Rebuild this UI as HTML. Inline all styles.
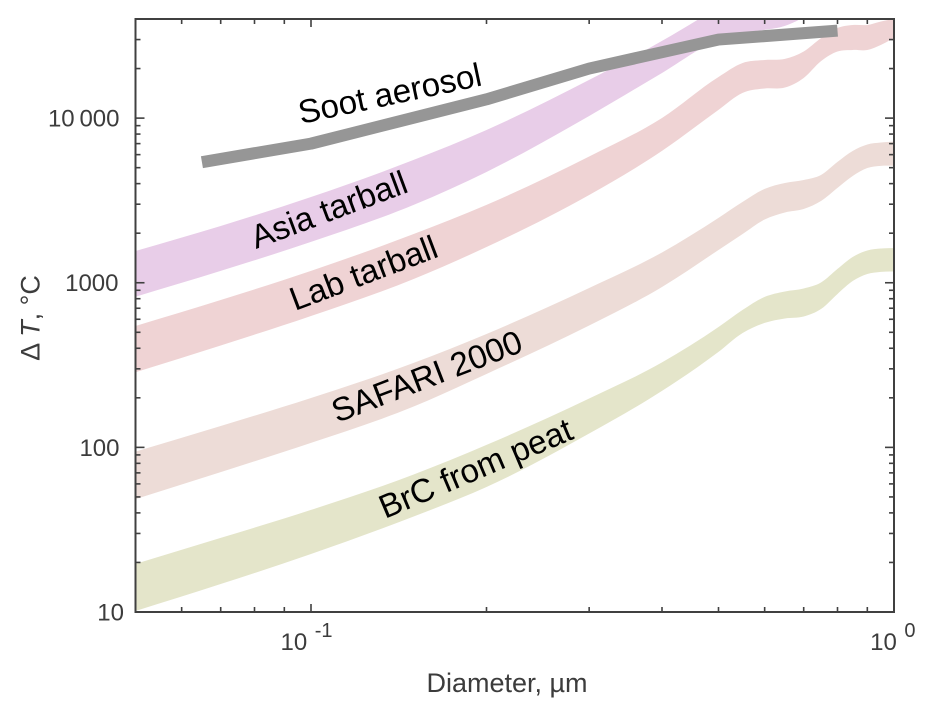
<!DOCTYPE html>
<html>
<head>
<meta charset="utf-8">
<title>Delta T versus diameter</title>
<style>
html,body{margin:0;padding:0;background:#fff;}
svg{display:block;}
text{font-family:"Liberation Sans",Arial,sans-serif;}
.tick{font-size:24px;fill:#3c3c3c;}
.sup{font-size:20px;fill:#3c3c3c;}
.axt{font-size:27px;fill:#3c3c3c;}
.lab{font-size:33.2px;fill:#000;}
</style>
</head>
<body>
<svg id="chart" xmlns="http://www.w3.org/2000/svg" width="931" height="715" viewBox="0 0 931 715">
  <defs><clipPath id="plot-clip"><rect x="135.5" y="19" width="758.5" height="593"></rect></clipPath></defs>
  <rect x="0" y="0" width="931" height="715" fill="#fff"></rect>
  <g id="bands" clip-path="url(#plot-clip)"></g>
  <g id="soot" clip-path="url(#plot-clip)"></g>
  <g id="axes"></g>
  <text class="lab" transform="translate(301,124) rotate(-12)">Soot aerosol</text>
  <text class="lab" transform="translate(256,249) rotate(-20.5)">Asia tarball</text>
  <text class="lab" transform="translate(295,311) rotate(-20.7)">Lab tarball</text>
  <text class="lab" transform="translate(337,423) rotate(-21)">SAFARI 2000</text>
  <text class="lab" transform="translate(385,519) rotate(-23)">BrC from peat</text>
  <text class="axt" x="507" y="692" text-anchor="middle">Diameter, µm</text>
  <text class="axt" transform="translate(39.5,318) rotate(-90)" text-anchor="middle">Δ <tspan font-style="italic">T</tspan>, °C</text>
</svg>
<script>
// Diameter grid in micrometres
const diameters = [0.05,0.07,0.1,0.15,0.2,0.3,0.4,0.5,0.55,0.6,0.65,0.7,0.75,0.8,0.85,0.9,0.95,1];
// Band edges as log10(delta T, deg C)
const brcUpper = [1.292,1.450,1.620,1.835,2.015,2.297,2.516,2.731,2.835,2.914,2.947,2.965,3.002,3.084,3.157,3.196,3.208,3.211];
const brcLower = [1.006,1.170,1.352,1.580,1.759,2.084,2.343,2.580,2.695,2.756,2.783,2.795,2.841,2.932,3.011,3.053,3.066,3.069];
const safariUpper = [1.974,2.130,2.300,2.513,2.689,2.968,3.184,3.394,3.491,3.570,3.606,3.624,3.655,3.734,3.801,3.840,3.852,3.857];
const safariLower = [1.686,1.850,2.027,2.248,2.446,2.740,2.974,3.199,3.296,3.384,3.427,3.448,3.497,3.576,3.649,3.697,3.710,3.711];
const labUpper = [2.737,2.895,3.072,3.296,3.473,3.767,4.001,4.250,4.335,4.353,4.360,4.405,4.487,4.548,4.566,4.566,4.587,4.603];
const labLower = [2.456,2.619,2.798,3.023,3.217,3.533,3.801,4.050,4.153,4.180,4.186,4.244,4.347,4.405,4.414,4.414,4.445,4.487];
const asiaUpper = [3.193,3.345,3.521,3.746,3.928,4.232,4.469,4.675,4.767,4.809,4.827,4.870,4.900,4.925,4.937,4.937,4.949,4.961];
const asiaLower = [2.915,3.072,3.248,3.473,3.673,4.013,4.274,4.475,4.517,4.536,4.560,4.615,4.700,4.754,4.767,4.767,4.779,4.791];
// Soot aerosol line
const sootDiameters = [0.065,0.1,0.2,0.3,0.5,0.8];
const sootValues = [5400,7000,13000,20000,30000,34000];
// Axis ticks
const xMajorTicks = [0.1,1];
const xMinorTicks = [0.06,0.07,0.08,0.09,0.2,0.3,0.4,0.5,0.6,0.7,0.8,0.9];
const yMajorTicks = [10,100,1000,10000];
const yMinorTicks = [20,30,40,50,60,70,80,90,200,300,400,500,600,700,800,900,2000,3000,4000,5000,6000,7000,8000,9000,20000,30000];
const yTickLabels = ["10","100","1000","10\u2009000"];
const xTickExponents = ["-1","0"];

const NS = 'http://www.w3.org/2000/svg';
const plot = {left:135.5,right:894,top:19,bottom:612};
const xDomain = [0.05,1];
const yDomain = [10,40000];
function xScale(d){
  const a = Math.log10(xDomain[0]), b = Math.log10(xDomain[1]);
  return plot.left + (Math.log10(d)-a)/(b-a)*(plot.right-plot.left);
}
function yScaleLog(logV){
  const a = Math.log10(yDomain[0]), b = Math.log10(yDomain[1]);
  return plot.bottom - (logV-a)/(b-a)*(plot.bottom-plot.top);
}
function yScale(v){ return yScaleLog(Math.log10(v)); }
// Cubic Hermite through points with spacing-weighted tangents
function curveThrough(pts){
  const n = pts.length;
  const slope = [];
  for(let i=0;i<n-1;i++){ slope.push((pts[i+1][1]-pts[i][1])/(pts[i+1][0]-pts[i][0])); }
  const tan = [];
  for(let i=0;i<n;i++){
    if(i===0){ tan.push(slope[0]); }
    else if(i===n-1){ tan.push(slope[n-2]); }
    else {
      const hPrev = Math.abs(pts[i][0]-pts[i-1][0]), hNext = Math.abs(pts[i+1][0]-pts[i][0]);
      tan.push((slope[i-1]*hNext+slope[i]*hPrev)/(hPrev+hNext));
    }
  }
  let s = '';
  for(let i=0;i<n-1;i++){
    const h = pts[i+1][0]-pts[i][0];
    const c1x = pts[i][0]+h/3, c1y = pts[i][1]+tan[i]*h/3;
    const c2x = pts[i+1][0]-h/3, c2y = pts[i+1][1]-tan[i+1]*h/3;
    s += ' C'+c1x.toFixed(2)+' '+c1y.toFixed(2)+' '+c2x.toFixed(2)+' '+c2y.toFixed(2)+' '+pts[i+1][0].toFixed(2)+' '+pts[i+1][1].toFixed(2);
  }
  return s;
}
function bandPath(upper,lower){
  const up = diameters.map((d,i)=>[xScale(d),yScaleLog(upper[i])]);
  const lo = diameters.map((d,i)=>[xScale(d),yScaleLog(lower[i])]).reverse();
  return 'M'+up[0][0].toFixed(2)+' '+up[0][1].toFixed(2)+curveThrough(up)+' L'+lo[0][0].toFixed(2)+' '+lo[0][1].toFixed(2)+curveThrough(lo)+' Z';
}
const bandsG = document.getElementById('bands');
const asiaBand = document.createElementNS(NS,'path');


asiaBand.setAttribute('d', bandPath(asiaUpper,asiaLower));
asiaBand.setAttribute('fill', '#e8cde8');
bandsG.appendChild(asiaBand);
const labBand = document.createElementNS(NS,'path');


labBand.setAttribute('d', bandPath(labUpper,labLower));
labBand.setAttribute('fill', '#efd3d4');
bandsG.appendChild(labBand);
const safariBand = document.createElementNS(NS,'path');


safariBand.setAttribute('d', bandPath(safariUpper,safariLower));
safariBand.setAttribute('fill', '#eddcd7');
bandsG.appendChild(safariBand);
const brcBand = document.createElementNS(NS,'path');


brcBand.setAttribute('d', bandPath(brcUpper,brcLower));
brcBand.setAttribute('fill', '#e4e5ca');
bandsG.appendChild(brcBand);

const sootLine = document.createElementNS(NS,'polyline');


sootLine.setAttribute('points', sootDiameters.map((d,i)=>xScale(d).toFixed(2)+','+yScale(sootValues[i]).toFixed(2)).join(' '));
sootLine.setAttribute('fill', 'none');
sootLine.setAttribute('stroke', '#969696');
sootLine.setAttribute('stroke-width', '12');
sootLine.setAttribute('stroke-linejoin', 'round');
document.getElementById('soot').appendChild(sootLine);

const axesG = document.getElementById('axes');
const axisColor = '#404040';
function tickLine(x1,y1,x2,y2,w,name){
  const l = document.createElementNS(NS,'line');
  
  
  l.setAttribute('x1', x1); l.setAttribute('y1', y1);
  l.setAttribute('x2', x2); l.setAttribute('y2', y2);
  l.setAttribute('stroke', axisColor);
  l.setAttribute('stroke-width', w);
  axesG.appendChild(l);
}
xMinorTicks.forEach(d=>{
  const x = xScale(d);
  tickLine(x,plot.bottom,x,plot.bottom-5,1.6,'x-minor-tick-bottom');
  tickLine(x,plot.top,x,plot.top+5,1.6,'x-minor-tick-top');
});
xMajorTicks.forEach(d=>{
  const x = xScale(d);
  tickLine(x,plot.bottom,x,plot.bottom-8,1.6,'x-major-tick-bottom');
  tickLine(x,plot.top,x,plot.top+8,1.6,'x-major-tick-top');
});
yMinorTicks.forEach(v=>{
  const y = yScale(v);
  tickLine(plot.left,y,plot.left+5,y,1.6,'y-minor-tick-left');
  tickLine(plot.right,y,plot.right-5,y,1.6,'y-minor-tick-right');
});
yMajorTicks.forEach(v=>{
  const y = yScale(v);
  tickLine(plot.left,y,plot.left+9,y,1.6,'y-major-tick-left');
  tickLine(plot.right,y,plot.right-9,y,1.6,'y-major-tick-right');
});
const frame = document.createElementNS(NS,'rect');


frame.setAttribute('x', plot.left);
frame.setAttribute('y', plot.top);
frame.setAttribute('width', plot.right-plot.left);
frame.setAttribute('height', plot.bottom-plot.top);
frame.setAttribute('fill', 'none');
frame.setAttribute('stroke', axisColor);
frame.setAttribute('stroke-width', '2');
axesG.appendChild(frame);

yMajorTicks.forEach((v,i)=>{
  const t = document.createElementNS(NS,'text');
  
  
  t.setAttribute('class', 'tick');
  t.setAttribute('x', v===10 ? 124 : (v===1000 ? 118.5 : 119.5));
  t.setAttribute('y', yScale(v)+8.5);
  t.setAttribute('text-anchor', 'end');
  t.textContent = yTickLabels[i];
  axesG.appendChild(t);
});
xMajorTicks.forEach((d,i)=>{
  const x = xScale(d);
  const sup = document.createElementNS(NS,'text');
  
  
  sup.setAttribute('class', 'sup');
  sup.setAttribute('y', 637);
  sup.textContent = xTickExponents[i];
  axesG.appendChild(sup);
  const baseEnd = x + 14 - sup.getComputedTextLength();
  sup.setAttribute('x', baseEnd + 7.5);
  const base = document.createElementNS(NS,'text');
  
  
  base.setAttribute('class', 'tick');
  base.setAttribute('x', baseEnd);
  base.setAttribute('y', 650);
  base.setAttribute('text-anchor', 'end');
  base.textContent = '10';
  axesG.appendChild(base);
});
</script>
</body>
</html>
